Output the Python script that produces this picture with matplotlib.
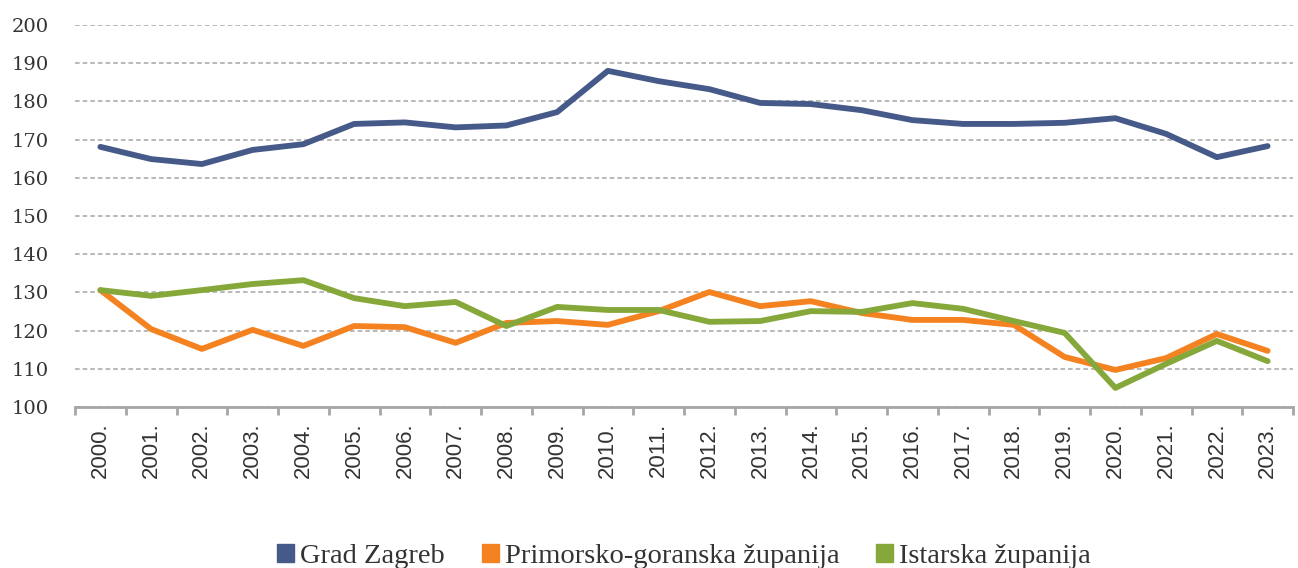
import matplotlib.pyplot as plt
import matplotlib.patches as mpatches
import numpy as np

# godine i indeksi po županijama
godine = [f"{g}." for g in range(2000, 2024)]
grad_zagreb = [168.1, 164.9, 163.6, 167.3, 168.8, 174.1, 174.5, 173.2, 173.7, 177.2,
               188.0, 185.3, 183.2, 179.6, 179.3, 177.7, 175.1, 174.1, 174.1, 174.4,
               175.6, 171.5, 165.4, 168.3]
primorsko_goranska = [130.6, 120.4, 115.2, 120.2, 116.0, 121.2, 120.9, 116.8, 122.0, 122.5,
                      121.5, 125.1, 130.1, 126.4, 127.7, 124.6, 122.8, 122.8, 121.5, 113.1,
                      109.7, 112.8, 119.1, 114.7]
istarska = [130.6, 129.1, 130.6, 132.2, 133.2, 128.5, 126.4, 127.5, 121.2, 126.2,
            125.4, 125.4, 122.3, 122.5, 125.1, 124.9, 127.2, 125.7, 122.5, 119.4,
            105.0, 111.3, 117.3, 112.0]

serije = [
    ("Grad Zagreb", grad_zagreb, "#465a8a"),
    ("Primorsko-goranska županija", primorsko_goranska, "#f58220"),
    ("Istarska županija", istarska, "#86a83a"),
]

fig = plt.figure(figsize=(12.98, 5.68), dpi=100)
ax = fig.add_axes([75 / 1298, 1 - 407 / 568, (1293 - 75) / 1298, (407 - 25) / 568])

x = np.arange(len(godine))
for naziv, vrijednosti, boja in serije:
    ax.plot(x, vrijednosti, color=boja, lw=4.2, solid_capstyle='round',
            solid_joinstyle='round', zorder=3)

ax.set_xlim(-0.5, len(godine) - 0.5)
ax.set_ylim(100, 200)
ax.set_yticks(np.arange(100, 201, 10))
ax.yaxis.grid(True, color='#a6a6a6', linestyle=(0, (3, 2)), lw=1.1)
ax.set_axisbelow(True)

for s in ['left', 'right', 'top']:
    ax.spines[s].set_visible(False)
ax.spines['bottom'].set_color('#a6a6a6')
ax.spines['bottom'].set_linewidth(2)

ax.tick_params(axis='y', length=0, pad=19, labelsize=14, labelcolor='#333333')
for lab in ax.get_yticklabels():
    lab.set_fontfamily('DejaVu Serif')

ax.set_xticks(x)
ax.set_xticklabels(godine, rotation=90, fontsize=16, family='Liberation Sans', color='#333333')
ax.tick_params(axis='x', which='major', length=0, pad=11)
ax.set_xticks(np.arange(-0.5, len(godine)), minor=True)
ax.tick_params(axis='x', which='minor', length=6, width=2, color='#a6a6a6')

ruke = [mpatches.Patch(color=b, label=n) for n, _, b in serije]
fig.legend(handles=ruke, loc='center', bbox_to_anchor=(0.527, 0.021), ncol=3, frameon=False,
           prop={'family': 'Liberation Serif', 'size': 20.5}, handlelength=0.6, handleheight=0.6,
           handletextpad=0.2, columnspacing=1.3, labelcolor='#333333')

fig.savefig('out.png', dpi=100)
